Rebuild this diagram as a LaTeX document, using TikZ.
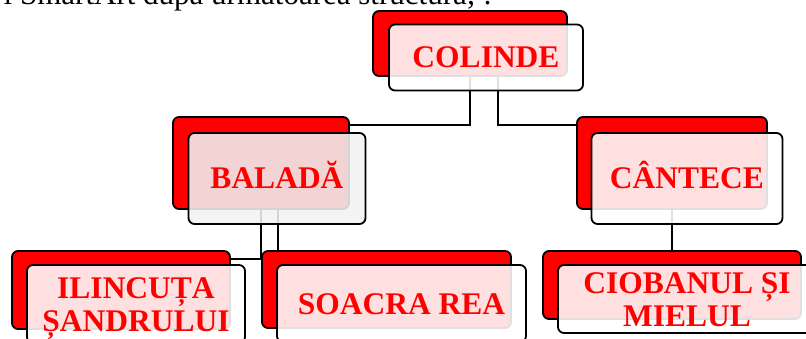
\documentclass[tikz,border=0pt]{standalone}
\usepackage{fontspec}
\setmainfont{Liberation Serif}
\tikzset{
  back/.style={draw=black, line width=1.8pt, rounded corners=6pt, fill=red, inner sep=0pt},
  front/.style={draw=black, line width=1.8pt, rounded corners=6pt, fill=white, fill opacity=0.88,
    text opacity=1, text=red, inner sep=0pt, align=center,
    font=\fontsize{31.5}{33}\selectfont\bfseries, text height=21pt, text depth=0pt},
  twolines/.style={text height=54pt, text depth=0pt},
  conn/.style={draw=black, line width=1.8pt},
  size/.style 2 args={minimum width=#1, minimum height=#2}
}
\begin{document}
\begin{tikzpicture}[x=1pt,y=-1pt]
        \useasboundingbox (0,0) rectangle (806,339);
        \clip (0,0) rectangle (806,339);
        \node[anchor=base east, inner sep=0pt, font=\fontsize{31}{33}\selectfont] (intro) at (492,5) {i SmartArt după următoarea structură; :};
        % back boxes
        \node[back, size={194pt}{65pt}] (colB) at (470,43.5) {};
        \node[back, size={176pt}{92pt}] (balB) at (261,163) {};
        \node[back, size={190pt}{92pt}] (canB) at (672,163) {};
        \node[back, size={218pt}{78pt}] (ilB) at (121,290) {};
        \node[back, size={249pt}{77pt}] (soB) at (386.5,289.5) {};
        \node[back, size={258pt}{68pt}] (ciB) at (672,285) {};
        % connectors
        \draw[conn] (colB.south) |- ([yshift=-9pt]balB.north east);
        \draw[conn] ([xshift=28pt]colB.south) |- ([yshift=-9pt]canB.north west);
        \draw[conn] (balB.south) |- ([yshift=-9pt]ilB.north east);
        \draw[conn] ([xshift=17pt]balB.south) -- ([xshift=17pt]balB.south |- soB.north);
        \draw[conn] (canB.south) -- (ciB.north);
        % front boxes
        \node[front, size={194pt}{66pt}] (colF) at ([shift={(16,14)}]colB.center) {COLINDE};
        \node[front, size={177pt}{91pt}, fill=black!5] (balF) at ([shift={(16,15.5)}]balB.center) {BALADĂ};
        \node[front, size={191pt}{91pt}] (canF) at ([shift={(15,15.5)}]canB.center) {CÂNTECE};
        \node[front, twolines, size={218pt}{78pt}] (ilF) at ([shift={(15,14)}]ilB.center) {ILINCUȚA\\ȘANDRULUI};
        \node[front, size={249pt}{77pt}] (soF) at ([shift={(15,14)}]soB.center) {SOACRA REA};
        \node[front, twolines, size={258pt}{68pt}] (ciF) at ([shift={(15,14)}]ciB.center) {CIOBANUL ȘI\\MIELUL};
\end{tikzpicture}
\end{document}
